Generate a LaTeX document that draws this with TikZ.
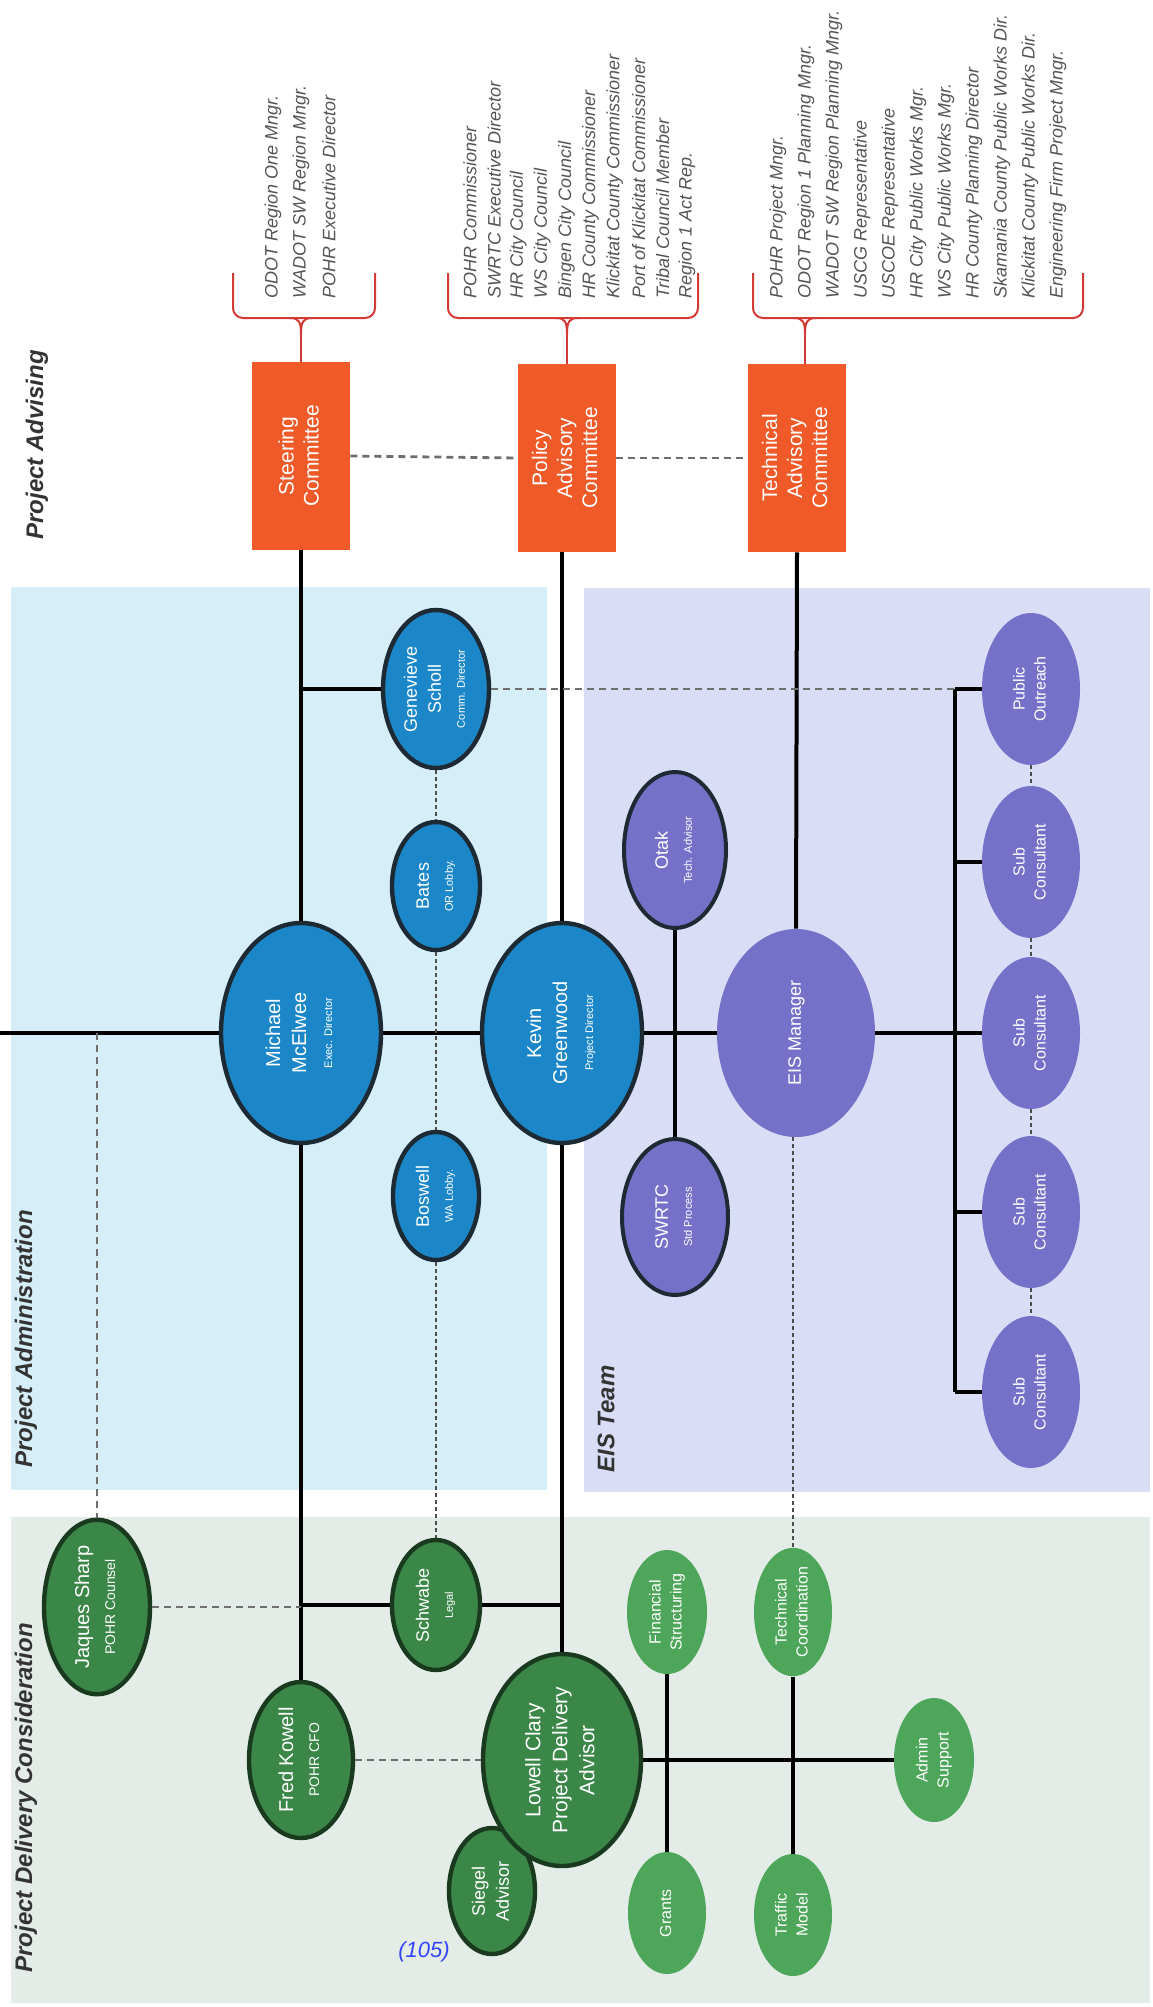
\documentclass[tikz,border=0pt]{standalone}
\usepackage{fontspec}
\setmainfont{Liberation Sans}
\usepackage{graphicx}
\usepackage{tikz}
\usetikzlibrary{shapes.geometric, calc}
\definecolor{bandblue}{HTML}{D6EEF8}
\definecolor{bandlav}{HTML}{D9DEF6}
\definecolor{bandgreen}{HTML}{E3ECE6}
\definecolor{nodeblue}{HTML}{1C87C8}
\definecolor{nodepurple}{HTML}{7571C9}
\definecolor{dkgreen}{HTML}{3A8748}
\definecolor{ltgreen}{HTML}{4DA659}
\definecolor{rimdark}{HTML}{1E2A33}
\definecolor{rimgreen}{HTML}{1A3A20}
\definecolor{cmtorange}{HTML}{F05A28}
\definecolor{bracered}{HTML}{D43A35}
\definecolor{listgray}{HTML}{555555}
\definecolor{dashgray}{HTML}{6E6E6E}
\definecolor{labelgray}{HTML}{333333}
\definecolor{pageblue}{HTML}{3344FF}
\newcommand{\fs}[2]{\fontsize{#1}{#2}\selectfont}
\newcommand{\vtext}[1]{\rotatebox{90}{\begin{tabular}{@{}c@{}}#1\end{tabular}}}
\newcommand{\rolesz}[1]{{\fs{5.5}{6.6}#1}}

\begin{document}
\begin{tikzpicture}[
    x=0.5pt, y=-0.5pt,
    sz/.style 2 args={minimum width=#1pt, minimum height=#2pt},
    person/.style={ellipse, inner sep=0pt, text=white, font=\fs{9}{12}},
    bluep/.style={person, fill=nodeblue, draw=rimdark, line width=2.2pt},
    eisp/.style={person, fill=nodepurple},
    eisk/.style={eisp, draw=rimdark, line width=2pt},
    dkgp/.style={person, fill=dkgreen, draw=rimgreen, line width=2.2pt},
    ltgp/.style={person, fill=ltgreen, font=\fs{8}{10.5}},
    cmt/.style={rectangle, fill=cmtorange, minimum width=49pt, minimum height=94pt,
        inner sep=0pt, text=white, font=\fs{10.5}{12.5}},
    member/.style={rotate=90, anchor=west, inner sep=0pt,
        font=\fs{9}{11}\itshape, text=listgray},
    seclabel/.style={rotate=90, anchor=west, inner sep=0pt,
        font=\fs{12}{14}\bfseries\itshape, text=labelgray},
    mainln/.style={black, line width=2pt},
    dotln/.style={dashgray, line width=1.4pt, dash pattern=on 3.5pt off 2.5pt},
    dotthin/.style={black!70, line width=0.9pt, dash pattern=on 2pt off 1.5pt},
    bracln/.style={bracered, line width=1pt}
]
\useasboundingbox (0,0) rectangle (1152,2007);
\fill[white] (0,0) rectangle (1152,2007);

% ===== Background bands =====
\fill[bandblue] (11,587) rectangle (547,1490);
\fill[bandlav] (584,588) rectangle (1150,1492);
\fill[bandgreen] (11,1517) rectangle (1150,2003);

\node[seclabel] (lbladv) at (37,540) {Project Advising};
\node[seclabel] (lbladm) at (26,1468) {Project Administration};
\node[seclabel] (lbleis) at (606,1473) {EIS Team};
\node[seclabel] (lblpdc) at (26,1973) {Project Delivery Consideration};

% ===== Project Advising =====
\node[cmt] (steer) at (301,456) {\vtext{Steering\\Committee}};
\node[cmt] (policy) at (567,458) {\vtext{Policy\\Advisory\\Committee}};
\node[cmt] (techac) at (797,458) {\vtext{Technical\\Advisory\\Committee}};

% member lists
\foreach \m [count=\i] in {ODOT Region One Mngr., WADOT SW Region Mngr.,
    POHR Executive Director}
    \node[member] (sm\i) at ({273+(\i-1)*28}, 299) {\m};
\foreach \m [count=\i] in {POHR Commissioner, SWRTC Executive Director,
    HR City Council, WS City Council, Bingen City Council,
    HR County Commissioner, Klickitat County Commissioner,
    Port of Klickitat Commissioner, Tribal Council Member, Region 1 Act Rep.}
    \node[member] (pm\i) at ({470+(\i-1)*24.1}, 299) {\m};
\foreach \m [count=\i] in {POHR Project Mngr., ODOT Region 1 Planning Mngr.,
    WADOT SW Region Planning Mngr., USCG Representative, USCOE Representative,
    HR City Public Works Mgr., WS City Public Works Mgr.,
    HR County Planning Director, Skamania County Public Works Dir.,
    Klickitat County Public Works Dir., Engineering Firm Project Mngr.}
    \node[member] (tm\i) at ({778+(\i-1)*28}, 299) {\m};

% braces
\foreach \bx/\l/\r/\tp in {steer/233/375/301, policy/448/698/567, techac/753/1083/805} {
    \draw[bracln, rounded corners=5pt] (\l,273) |- (\r,318) -- (\r,273);
    \coordinate (btip) at (\tp,334);
    \draw[bracln] (\tp-11,318) .. controls (\tp-2,318) and (\tp,322) .. (btip)
        .. controls (\tp,322) and (\tp+2,318) .. (\tp+11,318);
    \draw[bracln] (btip) -- (btip |- \bx.north);
}

% ===== Project Administration =====
\node[bluep, sz={80}{110}, font=\fs{10}{13}] (mich) at (301,1033)
    {\vtext{Michael\\McElwee\\\rolesz{Exec. Director}}};
\node[bluep, sz={80}{110}, font=\fs{10}{13}] (kevin) at (562,1033)
    {\vtext{Kevin\\Greenwood\\\rolesz{Project Director}}};
\node[bluep, sz={53}{79}] (genev) at (436,689)
    {\vtext{Genevieve\\Scholl\\\rolesz{Comm. Director}}};
\node[bluep, sz={44}{64}] (bates) at (436,886)
    {\vtext{Bates\\\rolesz{OR Lobby.}}};
\node[bluep, sz={43}{64}] (boswell) at (436,1196)
    {\vtext{Boswell\\\rolesz{WA Lobby.}}};

% ===== EIS Team =====
\node[eisp, sz={79}{104}] (eis) at (796,1033) {\vtext{EIS Manager}};
\node[eisk, sz={51}{78}] (otak) at (675,850) {\vtext{Otak\\\rolesz{Tech. Advisor}}};
\node[eisk, sz={53}{78}] (swrtc) at (675,1217) {\vtext{SWRTC\\\rolesz{Std Process}}};
\node[eisp, sz={49}{76}, font=\fs{8}{10.5}] (pub) at (1031,689) {\vtext{Public\\Outreach}};
\foreach \s/\yy in {sub1/862, sub2/1033, sub3/1212, sub4/1392}
    \node[eisp, sz={49}{76}, font=\fs{8}{10.5}] (\s) at (1031,\yy) {\vtext{Sub\\Consultant}};

% ===== Project Delivery Consideration =====
\node[dkgp, sz={53}{77}, font=\fs{10}{13}] (jaques) at (97,1607)
    {\vtext{Jaques Sharp\\{\fs{7}{8}POHR Counsel}}};
\node[dkgp, sz={52}{78}, font=\fs{10}{13}] (fred) at (301,1760)
    {\vtext{Fred Kowell\\{\fs{7}{8}POHR CFO}}};
\node[dkgp, sz={44}{65}] (schwabe) at (436,1605)
    {\vtext{Schwabe\\\rolesz{Legal}}};
\node[dkgp, sz={43}{63}] (siegel) at (492,1891) {\vtext{Siegel\\Advisor}};
\node[dkgp, sz={79}{106}, font=\fs{10.5}{13.5}] (lowell) at (562,1760)
    {\vtext{Lowell Clary\\Project Delivery\\Advisor}};
\node[ltgp, sz={40}{62}] (fin) at (667,1612) {\vtext{Financial\\Structuring}};
\node[ltgp, sz={39}{61}] (grants) at (667,1913) {\vtext{Grants}};
\node[ltgp, sz={39}{61}] (techc) at (793,1612) {\vtext{Technical\\Coordination}};
\node[ltgp, sz={39}{61}] (traffic) at (793,1915) {\vtext{Traffic\\Model}};
\node[ltgp, sz={40}{62}] (admin) at (934,1760) {\vtext{Admin\\Support}};

\node[font=\fs{11}{13}\itshape, text=pageblue] (pgnum) at (424,1952) {(105)};

% ===== Solid reporting lines =====
\coordinate (edge) at (0,1033);
\coordinate (bustop) at (955,689);
\coordinate (busbot) at (955,1392);
\coordinate (gjoin) at (301,689);

\draw[mainln] (edge) -- (mich.west);
\draw[mainln] (mich.east) -- (kevin.west);
\draw[mainln] (kevin.east) -- (eis.west);
\draw[mainln] (eis.east) -- (sub2.west);
\draw[mainln] (steer.south) -- (mich.north);
\draw[mainln] (mich.south) -- (fred.north);
\draw[mainln] (kevin.north |- policy.south) -- (kevin.north);
\draw[mainln] (kevin.south) -- (lowell.north);
\draw[mainln] (techac.south) -- (eis.north);
\draw[mainln] (gjoin) -- (genev.west);
\draw[mainln] (otak.south) -- (swrtc.north);
\draw[mainln] (bustop) -- (busbot);
\foreach \s in {pub, sub1, sub3, sub4}
    \draw[mainln] (\s.west -| bustop) -- (\s.west);
\draw[mainln] (schwabe.west -| fred.north) -- (schwabe.west);
\draw[mainln] (schwabe.east) -- (schwabe.east -| lowell.north);
\draw[mainln] (lowell.east) -- (admin.west);
\draw[mainln] (fin.south) -- (grants.north);
\draw[mainln] (techc.south) -- (traffic.north);

% ===== Dotted advisory links =====
\draw[dotln] (steer.east) -- (policy.west);
\draw[dotln] (policy.east) -- (techac.west);
\draw[dotln] (genev.east) -- (bustop);
\draw[dotln] (jaques.north |- edge) -- (jaques.north);
\draw[dotln] (jaques.east) -- (jaques.east -| fred.north);
\draw[dotln] (fred.east) -- (lowell.west);
\draw[dotthin] (techc.north |- eis.south) -- (techc.north);
\foreach \i/\j in {genev/bates, bates/boswell, boswell/schwabe}
    \draw[dotthin] (\i.south) -- (\j.north);
\foreach \i/\j in {pub/sub1, sub1/sub2, sub2/sub3, sub3/sub4}
    \draw[dotthin] (\i.south) -- (\j.north);

\end{tikzpicture}
\end{document}
